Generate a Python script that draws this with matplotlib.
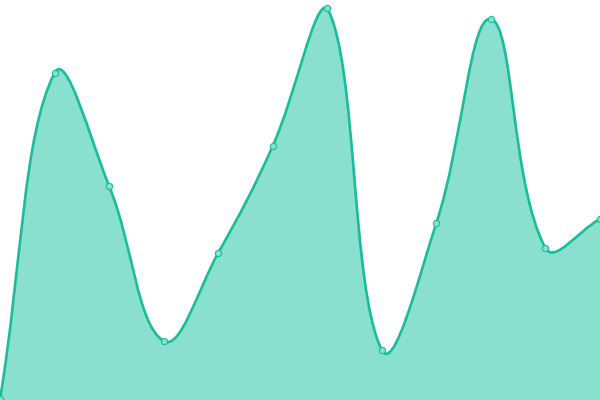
import matplotlib
matplotlib.use("Agg")
import matplotlib.pyplot as plt
import numpy as np
from matplotlib.path import Path
from matplotlib.patches import PathPatch

labels = list(range(12))
values = [1, 327, 214, 59, 147, 254, 392, 50, 177, 381, 152, 181]

W, H = 600, 400
fig = plt.figure(figsize=(6, 4), dpi=100)
ax = fig.add_axes([0, 0, 1, 1])
ax.set_xlim(0, len(values) - 1)
ax.set_ylim(0, 400)
ax.axis("off")

x = np.arange(len(values), dtype=float)
y = np.array(values, dtype=float)
sx = W / (len(values) - 1)
px = x * sx
py = y.copy()

tension = 0.4
n = len(px)
cp_prev = [None] * n
cp_next = [None] * n
for i in range(n):
    p0 = (px[max(i - 1, 0)], py[max(i - 1, 0)])
    p1 = (px[i], py[i])
    p2 = (px[min(i + 1, n - 1)], py[min(i + 1, n - 1)])
    d01 = np.hypot(p1[0] - p0[0], p1[1] - p0[1])
    d12 = np.hypot(p2[0] - p1[0], p2[1] - p1[1])
    tot = d01 + d12
    s01 = d01 / tot if tot else 0
    s12 = d12 / tot if tot else 0
    fa = tension * s01
    fb = tension * s12
    cp_prev[i] = (p1[0] - fa * (p2[0] - p0[0]), p1[1] - fa * (p2[1] - p0[1]))
    cp_next[i] = (p1[0] + fb * (p2[0] - p0[0]), p1[1] + fb * (p2[1] - p0[1]))

def clamp(p):
    return (min(max(p[0], 0), W), min(max(p[1], 0), H))

verts = [(px[0] / sx, py[0])]
codes = [Path.MOVETO]
for i in range(n - 1):
    a = clamp(cp_next[i]); b = clamp(cp_prev[i + 1])
    verts += [(a[0] / sx, a[1]), (b[0] / sx, b[1]), (px[i + 1] / sx, py[i + 1])]
    codes += [Path.CURVE4] * 3

line_path = Path(verts, codes)
fill_verts = verts + [(x[-1], 0), (x[0], 0), verts[0]]
fill_codes = codes + [Path.LINETO, Path.LINETO, Path.CLOSEPOLY]
ax.add_patch(PathPatch(Path(fill_verts, fill_codes), facecolor="#8ae0cf", edgecolor="none", zorder=1))
ax.add_patch(PathPatch(line_path, facecolor="none", edgecolor="#1abc9c", lw=1.9, zorder=2))
ax.plot(x, y, "o", ms=4.5, mfc="#8ae0cf", mec="#1abc9c", mew=0.8, zorder=3, clip_on=False)

fig.savefig("out.png", dpi=100)
